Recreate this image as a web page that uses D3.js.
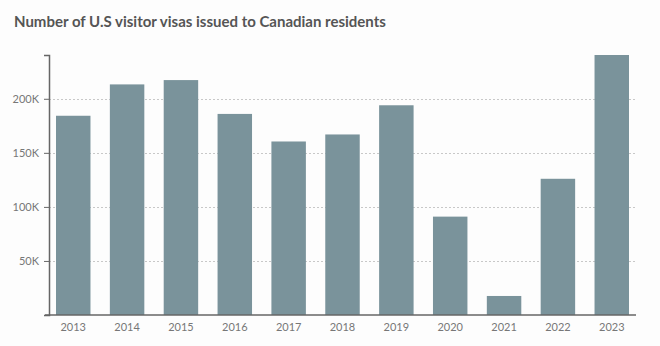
<!DOCTYPE html>
<html>
<head>
<meta charset="utf-8">
<script src="https://cdn.jsdelivr.net/npm/d3@7/dist/d3.min.js"></script>
<style>
  html, body { margin: 0; padding: 0; background: #fdfdfd; }
  svg { display: block; }
</style>
</head>
<body>
<svg id="chart" width="660" height="346"></svg>
<script>
// Annual count of U.S. visitor visas issued to Canadian residents
const years = ["2013", "2014", "2015", "2016", "2017", "2018", "2019", "2020", "2021", "2022", "2023"];
const visas = [184300, 213300, 217300, 186000, 160500, 167000, 194000, 91000, 17600, 126000, 240500];
const yTicks = [50000, 100000, 150000, 200000];

const svg = d3.select("#chart");
const margin = { top: 55, right: 24, bottom: 31, left: 49 };
const W = 660, H = 346;

const x = d3.scaleBand()
  .domain(years)
  .range([margin.left, W - margin.right])
  .paddingInner(0.36)
  .paddingOuter(0.13);

const y = d3.scaleLinear()
  .domain([0, d3.max(visas)])
  .range([H - margin.bottom, margin.top]);

// title
svg.append("text")
  .attr("x", 14)
  .attr("y", 27)
  .attr("font-family", "Lato, 'Open Sans', sans-serif")
  .attr("font-weight", "bold")
  .attr("font-size", 15)
  .attr("fill", "#555")
  .text("Number of U.S visitor visas issued to Canadian residents");

// dotted horizontal gridlines
svg.append("g")
  .selectAll("line")
  .data(yTicks)
  .join("line")
  .attr("x1", margin.left)
  .attr("x2", W - margin.right)
  .attr("y1", d => Math.round(y(d)) + 0.5)
  .attr("y2", d => Math.round(y(d)) + 0.5)
  .attr("stroke", "#c8c8c8")
  .attr("stroke-width", 1)
  .attr("stroke-dasharray", "2,2");

// bars
svg.append("g")
  .selectAll("rect")
  .data(years.map((yr, i) => ({ yr, v: visas[i] })))
  .join("rect")
  .attr("x", d => x(d.yr))
  .attr("width", x.bandwidth())
  .attr("y", d => y(d.v))
  .attr("height", d => y(0) - y(d.v))
  .attr("fill", "#7a939b");

// y axis
const yAxis = svg.append("g")
  .attr("transform", `translate(${margin.left},0)`)
  .call(d3.axisLeft(y)
    .tickValues(yTicks)
    .tickSize(5)
    .tickPadding(5)
    .tickFormat(d => d3.format("~s")(d).replace("k", "K")));
yAxis.select(".domain").attr("stroke", "#666").attr("stroke-width", 1.5);
yAxis.selectAll(".tick line").attr("stroke", "#666");
yAxis.selectAll(".tick text")
  .attr("fill", "#777")
  .attr("font-family", "Lato, 'Open Sans', sans-serif")
  .attr("font-size", 11);

// x axis
const xAxis = svg.append("g")
  .attr("transform", `translate(0,${H - margin.bottom})`)
  .call(d3.axisBottom(x).tickSize(0).tickPadding(8));
xAxis.select(".domain")
  .attr("d", `M${margin.left - 4},0H${W - margin.right}`)
  .attr("stroke", "#666")
  .attr("stroke-width", 1.5);
xAxis.selectAll(".tick text")
  .attr("fill", "#777")
  .attr("font-family", "Lato, 'Open Sans', sans-serif")
  .attr("font-size", 11);
</script>
</body>
</html>
